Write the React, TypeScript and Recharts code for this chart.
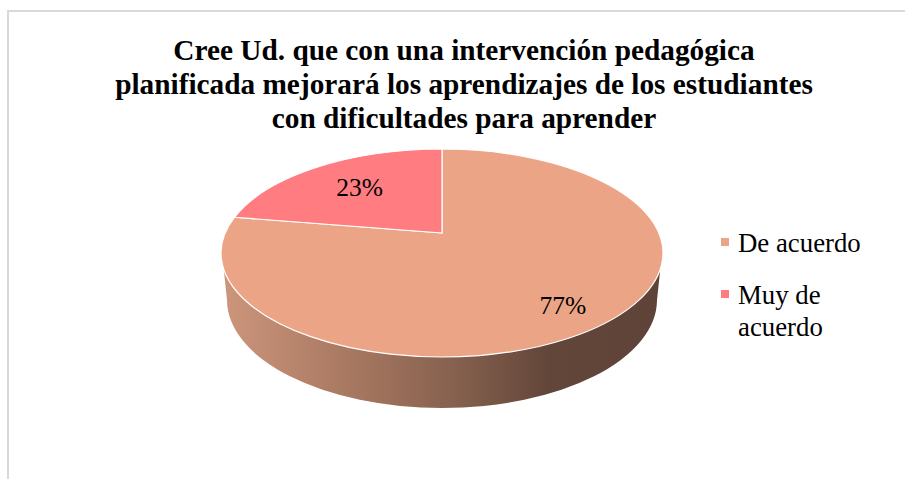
import { Cell, Legend, Pie, PieChart } from "recharts"

const categories = ["De acuerdo", "Muy de acuerdo"]
const percentages = [77, 23]
const colors = ["#eba586", "#ff7c80"]
const titleLines = [
  "Cree Ud. que con una intervención pedagógica",
  "planificada mejorará los aprendizajes de los estudiantes",
  "con dificultades para aprender",
]

const data = categories.map((name, i) => ({ name, value: percentages[i] }))

const FONT = "'Liberation Serif', serif"
const RY = 104 // squashed radius of the top face
const APEX_UP = 20 // slices meet above the ellipse centre (perspective)
const TILT = 0.6

// where a ray from the apex at a given pie angle hits the ellipse
function rayLength(angle: number, rx: number) {
  const rad = (angle * Math.PI) / 180
  const dx = Math.cos(rad)
  const dy = -Math.sin(rad) * TILT
  const a = (dx * dx) / (rx * rx) + (dy * dy) / (RY * RY)
  const b = (-2 * APEX_UP * dy) / (RY * RY)
  const c = (APEX_UP * APEX_UP) / (RY * RY) - 1
  const t = (-b + Math.sqrt(b * b - 4 * a * c)) / (2 * a)
  return { t, dx, dy }
}

function project(angle: number, cx: number, cy: number, rx: number, fraction = 1) {
  const { t, dx, dy } = rayLength(angle, rx)
  return { x: cx + dx * t * fraction, y: cy - APEX_UP + dy * t * fraction }
}

function Slice(props: any) {
  const { cx, cy, outerRadius: rx, startAngle, endAngle, fill } = props
  const p1 = project(startAngle, cx, cy, rx)
  const p2 = project(endAngle, cx, cy, rx)
  const large = Math.abs(startAngle - endAngle) > 180 ? 1 : 0
  const hasWall = startAngle >= -90 && endAngle <= -90
  return (
    <g>
      {hasWall && (
        <>
          <defs>
            <linearGradient id="wall" x1="0" y1="0" x2="1" y2="0">
              <stop offset="0%" stopColor="#cc967c" />
              <stop offset="27%" stopColor="#ab7a63" />
              <stop offset="52%" stopColor="#87624f" />
              <stop offset="74%" stopColor="#63463a" />
              <stop offset="100%" stopColor="#5f4338" />
            </linearGradient>
          </defs>
          <path
            d={`M${cx - rx + 1},${cy} L${cx - 215},${cy + 47} A215,108 0 0 0 ${cx + 215},${cy + 47} L${cx + rx - 1},${cy} Z`}
            fill="url(#wall)"
          />
        </>
      )}
      <path
        d={`M${cx},${cy - APEX_UP} L${p1.x},${p1.y} A${rx},${RY} 0 ${large} 1 ${p2.x},${p2.y} Z`}
        fill={fill}
        stroke="#ffffff"
        strokeWidth={1.2}
        strokeLinejoin="round"
      />
    </g>
  )
}

function PercentLabel(props: any) {
  const { cx, cy, outerRadius, midAngle, value } = props
  const fraction = midAngle < 0 && midAngle > -90 ? 0.835 : 0.785
  const { x, y } = project(midAngle, cx, cy, outerRadius, fraction)
  const apexY = cy - APEX_UP
  return (
    <text
      x={x}
      y={apexY + (y - apexY) * 0.85 + 2.5}
      textAnchor="middle"
      dominantBaseline="central"
      fontFamily={FONT}
      fontSize={25.5}
      fill="#000000"
    >
      {`${value}%`}
    </text>
  )
}

function LegendList({ payload }: any) {
  return (
    <div style={{ fontFamily: FONT, fontSize: 26.8, lineHeight: "32px", color: "#000000" }}>
      {(payload || []).map((entry: any) => (
        <div key={entry.value} style={{ display: "flex", marginBottom: 20 }}>
          <span
            style={{ width: 8, height: 8, marginTop: 11, marginRight: 9, background: entry.color, flexShrink: 0 }}
          />
          <span>{entry.value}</span>
        </div>
      ))}
    </div>
  )
}

export default function App() {
  return (
    <div style={{ position: "absolute", left: 0, top: 0, width: 905, height: 479, background: "#ffffff", overflow: "hidden" }}>
      <div
        style={{
          position: "absolute",
          left: 7,
          top: 10,
          right: 0,
          bottom: 0,
          borderTop: "2px solid #d9d9d9",
          borderLeft: "2px solid #d9d9d9",
        }}
      />
      <div
        style={{
          position: "absolute",
          left: 64,
          top: 33,
          width: 800,
          textAlign: "center",
          fontFamily: FONT,
          fontWeight: "bold",
          fontSize: 29.3,
          lineHeight: "34px",
          color: "#000000",
        }}
      >
        {titleLines.map((line) => (
          <div key={line}>{line}</div>
        ))}
      </div>
      <div style={{ position: "absolute", left: 0, top: 0 }}>
        <PieChart width={905} height={479} margin={{ top: 0, right: 0, bottom: 0, left: 0 }}>
          <Pie
            data={data}
            dataKey="value"
            nameKey="name"
            cx={442}
            cy={253}
            outerRadius={221}
            startAngle={90}
            endAngle={-270}
            stroke="none"
            isAnimationActive={false}
            shape={Slice}
            label={PercentLabel}
            labelLine={false}
          >
            {data.map((d, i) => (
              <Cell key={d.name} fill={colors[i]} />
            ))}
          </Pie>
          <Legend
            layout="vertical"
            content={LegendList}
            wrapperStyle={{ position: "absolute", left: 721, top: 227, width: 150 }}
          />
        </PieChart>
      </div>
    </div>
  )
}
